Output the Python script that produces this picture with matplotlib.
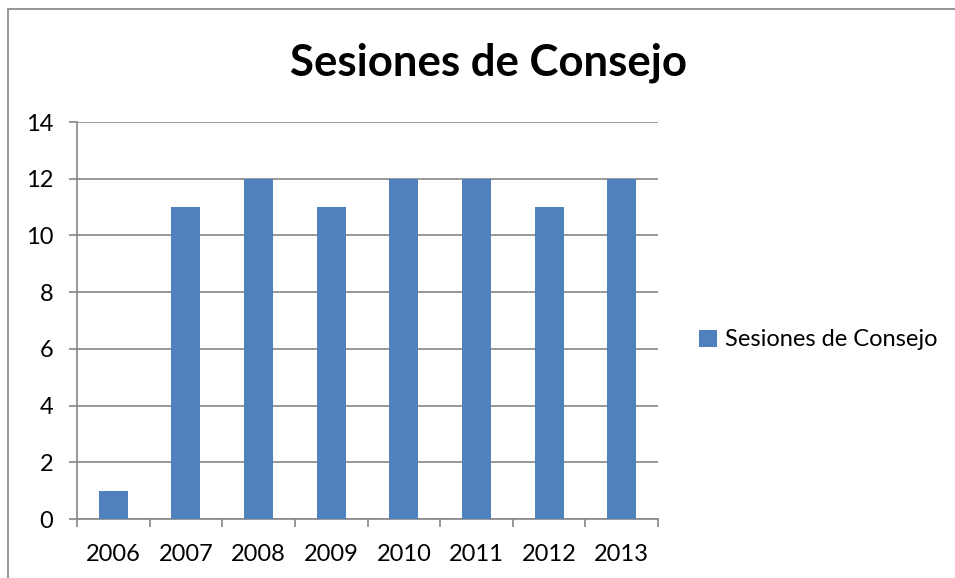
import matplotlib
matplotlib.use("Agg")
import matplotlib.pyplot as plt
from matplotlib.patches import Rectangle

# data
years = ["2006", "2007", "2008", "2009", "2010", "2011", "2012", "2013"]
sesiones = [1, 11, 12, 11, 12, 12, 11, 12]
y_ticks = [0, 2, 4, 6, 8, 10, 12, 14]

BAR = "#4F81BD"
GRID = "#868686"
FONT = ["Lato", "DejaVu Sans"]
FS = 17

W, H = 955, 578
fig = plt.figure(figsize=(W / 100, H / 100), dpi=100)

# outer chart frame (runs off the right and bottom edges)
fig.patches.append(Rectangle((8 / W, -0.05), 1.1, 1 - 9 / H + 0.05,
                             transform=fig.transFigure, fill=False,
                             edgecolor="#8c8c8c", linewidth=1.3))

left, right, top, bottom = 77, 658, 122, 519
ax = fig.add_axes([left / W, 1 - bottom / H, (right - left) / W, (bottom - top) / H])

x = range(len(years))
ax.bar(x, sesiones, width=0.4, color=BAR, zorder=3, label="Sesiones de Consejo")

ax.set_xlim(-0.5, len(years) - 0.5)
ax.set_ylim(0, 14)
ax.set_yticks(y_ticks)
ax.set_yticklabels([str(v) for v in y_ticks], fontsize=FS, family=FONT)
ax.yaxis.grid(True, color=GRID, linewidth=1.2, zorder=0)

# category labels centered, ticks on the boundaries
ax.set_xticks(list(x))
ax.set_xticklabels(years, fontsize=FS, family=FONT)
ax.tick_params(axis="x", length=0, pad=18)
ax.set_xticks([i - 0.5 for i in range(len(years) + 1)], minor=True)
ax.tick_params(axis="x", which="minor", length=6, color=GRID, width=1.2)
ax.tick_params(axis="y", length=6, color=GRID, width=1.2, pad=11)

for s in ["top", "right"]:
    ax.spines[s].set_visible(False)
for s in ["left", "bottom"]:
    ax.spines[s].set_color(GRID)
    ax.spines[s].set_linewidth(1.2)

fig.text(488 / W, 1 - 63 / H, "Sesiones de Consejo", ha="center", va="center",
         fontsize=31.5, fontweight="bold", family=FONT)

fig.legend(loc="center left", bbox_to_anchor=(678 / W, 1 - 340 / H),
           frameon=False, prop={"family": FONT, "size": FS},
           handlelength=0.75, handleheight=0.75, handletextpad=0.35)

fig.savefig("out.png", dpi=100)
